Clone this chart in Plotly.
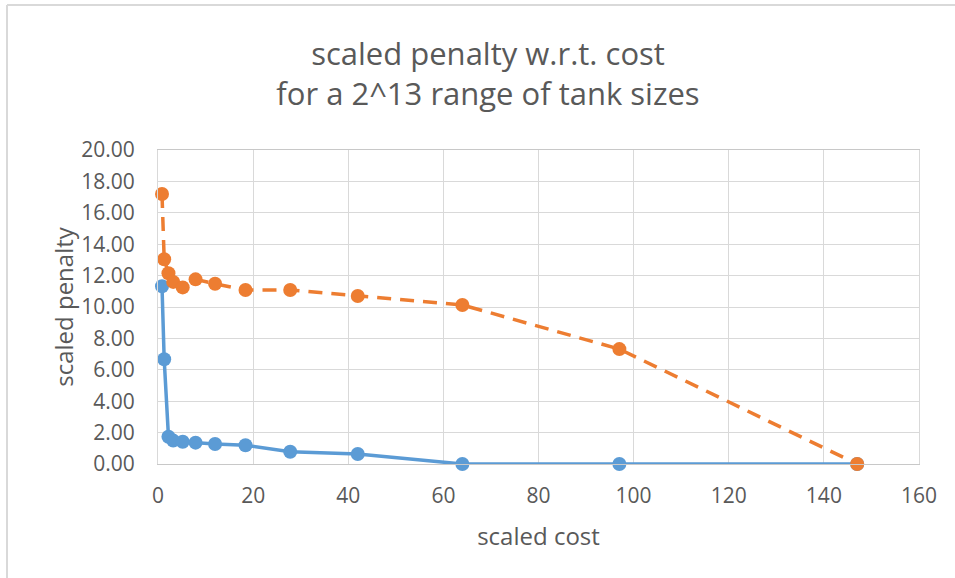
import plotly.graph_objects as go

# Scaled cost (x) and scaled penalty (y) for each tank size
cost = [0.84, 1.3, 2.2, 3.2, 5.2, 7.9, 12.0, 18.4, 27.8, 42.0, 64.0, 97.0, 147.0]
penalty_blue = [11.32, 6.67, 1.74, 1.49, 1.42, 1.36, 1.27, 1.19, 0.78, 0.64, 0.0, 0.0, 0.0]
penalty_orange = [17.2, 13.04, 12.15, 11.6, 11.25, 11.76, 11.48, 11.08, 11.08, 10.7, 10.13, 7.32, 0.0]

x_ticks = [0, 20, 40, 60, 80, 100, 120, 140, 160]
y_ticks = [0, 2, 4, 6, 8, 10, 12, 14, 16, 18, 20]

BLUE = "#5B9BD5"
ORANGE = "#ED7D31"
GRID = "#d9d9d9"
TEXT = "#595959"
FONT = "Open Sans"

W, H = 955, 578
L, R, T, B = 158, 36, 150, 114
pw, ph = W - L - R, H - T - B


def px_x(p):
    return (p - L) / pw


def px_y(p):
    return (H - B - p) / ph


fig = go.Figure()
fig.add_trace(go.Scatter(
    x=cost, y=penalty_blue, mode="lines+markers",
    line=dict(color=BLUE, width=3.5),
    marker=dict(color=BLUE, size=14),
    cliponaxis=False, showlegend=False,
))
fig.add_trace(go.Scatter(
    x=cost, y=penalty_orange, mode="lines+markers",
    line=dict(color=ORANGE, width=3.5, dash="14px,9px"),
    marker=dict(color=ORANGE, size=14),
    cliponaxis=False, showlegend=False,
))

fig.update_layout(
    width=W, height=H,
    margin=dict(l=L, r=R, t=T, b=B, pad=0),
    paper_bgcolor="white", plot_bgcolor="white",
    font=dict(family=FONT, color=TEXT, size=21),
    title=dict(
        text="scaled penalty w.r.t. cost<br>for a 2^13 range of tank sizes",
        x=488 / W, xanchor="center", xref="container",
        y=1 - 65 / H, yanchor="middle", yref="container",
        font=dict(family=FONT, size=31, color=TEXT),
    ),
    xaxis=dict(
        range=[0, 160], tickvals=x_ticks, ticktext=[str(v) for v in x_ticks],
        showgrid=True, gridcolor=GRID, gridwidth=1,
        zeroline=False, showline=True, linecolor="#c8c8c8", linewidth=1,
        mirror=True, ticks="", ticklabelstandoff=13,
        title=dict(text="scaled cost", standoff=19, font=dict(size=24)),
    ),
    yaxis=dict(
        range=[0, 20], tickvals=y_ticks, ticktext=[f"{v:.2f}" for v in y_ticks],
        showgrid=True, gridcolor=GRID, gridwidth=1,
        zeroline=False, showline=True, linecolor=GRID, linewidth=1,
        mirror=True, ticks="", ticklabelstandoff=18,
        title=dict(text="scaled penalty", standoff=0, font=dict(size=24)),
    ),
    shapes=[
        dict(type="line", xref="paper", yref="paper",
             x0=px_x(7), x1=px_x(7), y0=px_y(H), y1=px_y(5),
             line=dict(color=GRID, width=2)),
        dict(type="line", xref="paper", yref="paper",
             x0=px_x(7), x1=px_x(W), y0=px_y(5), y1=px_y(5),
             line=dict(color=GRID, width=2)),
    ],
)

fig.write_html("out.html")
